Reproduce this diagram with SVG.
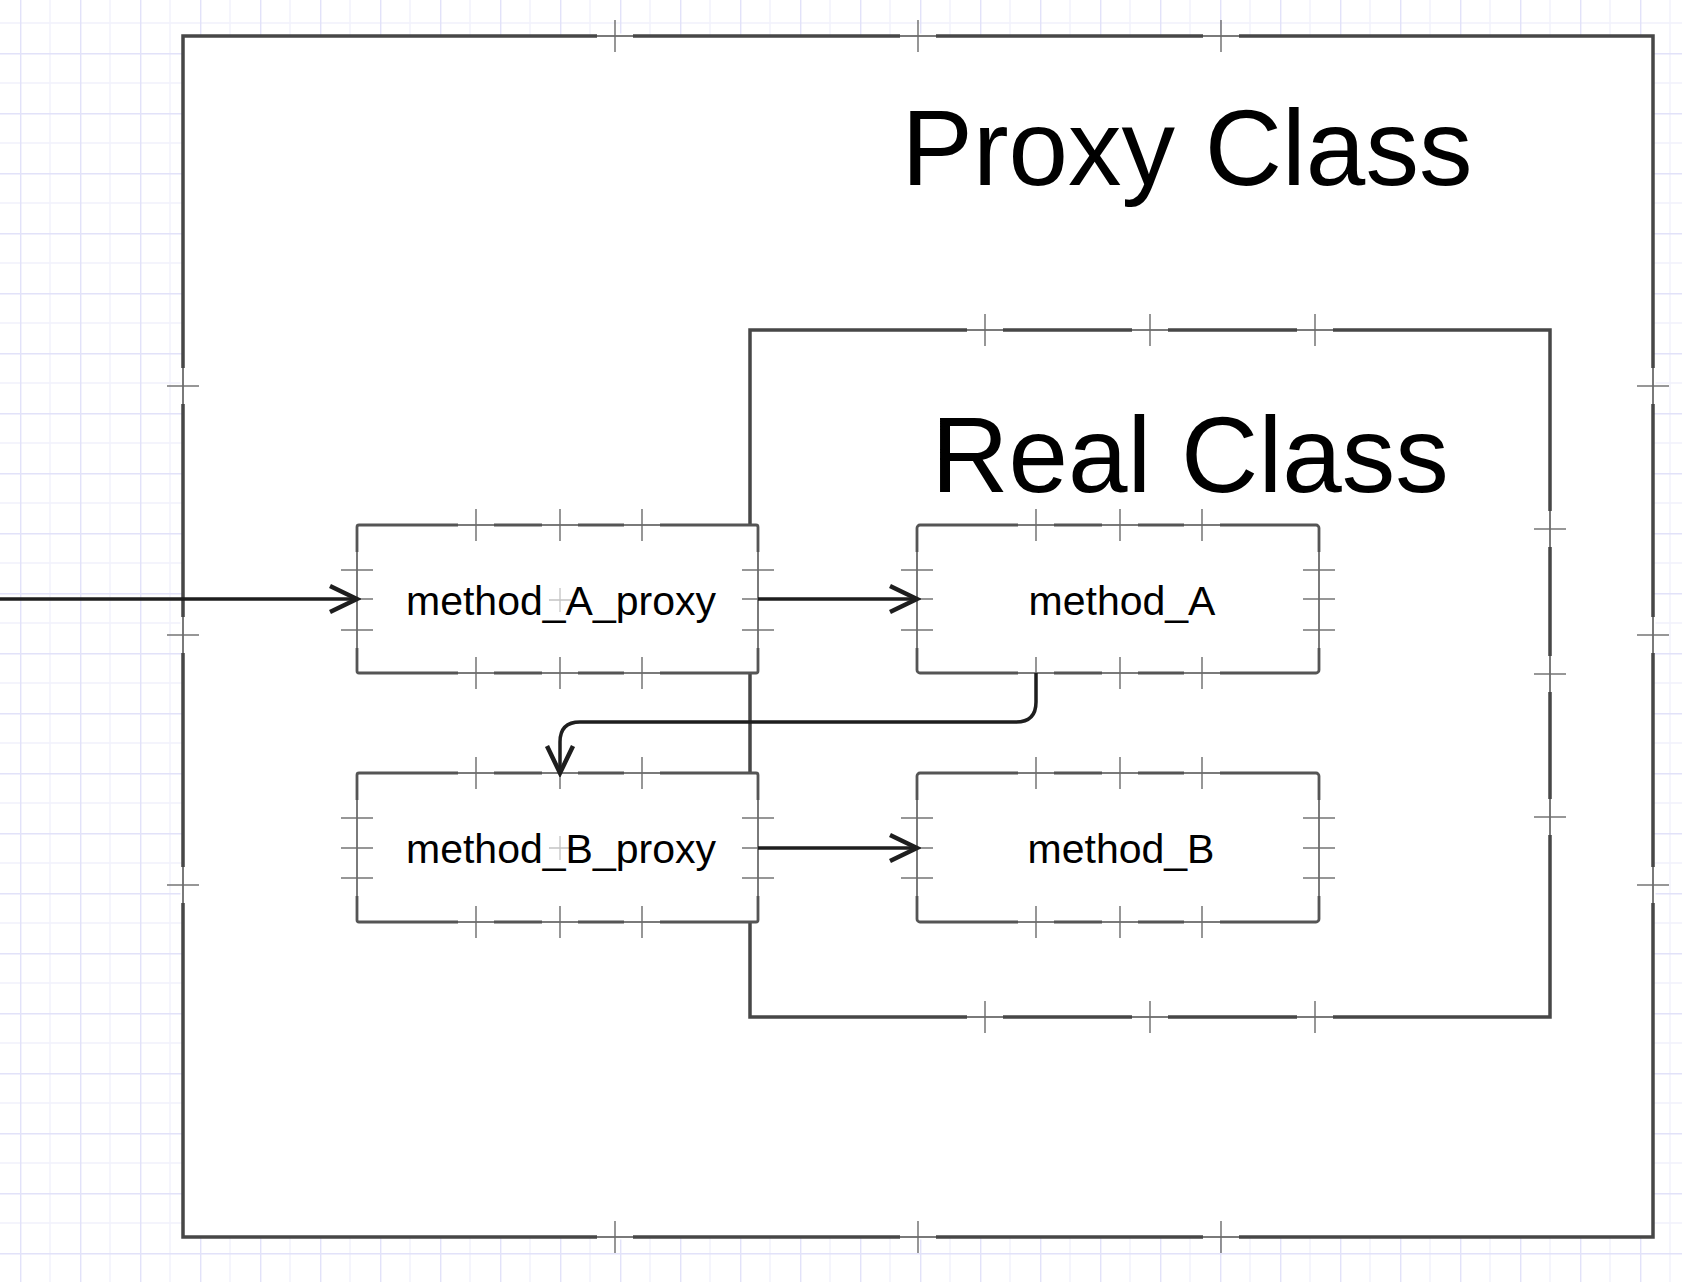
<svg xmlns="http://www.w3.org/2000/svg" xmlns:xlink="http://www.w3.org/1999/xlink" width="1682" height="1282" viewBox="0 0 1682 1282">
  <style>
    .frame { fill: #ffffff; stroke: #474747; stroke-width: 3.5; }
    .box { fill: #ffffff; stroke: #555555; stroke-width: 2.8; }
    .title { font-family: "Liberation Sans", Arial, sans-serif; font-size: 107px; fill: #000000; text-anchor: middle; }
    .label { font-family: "Liberation Sans", Arial, sans-serif; font-size: 41px; fill: #000000; text-anchor: middle; }
    .tick { stroke: #6a6a6a; stroke-width: 1.4; fill: none; }
    .arm { stroke: #7a7a7a; stroke-width: 2; fill: none; }
    .gap { fill: #ffffff; }
    .conn { fill: none; stroke: #1e1e1e; stroke-width: 3.5; }
    .centre { stroke: #c4c4c4; stroke-width: 1.3; fill: none; }
  </style>
  <defs>
    <pattern id="grid" patternUnits="userSpaceOnUse" x="20" y="53" width="60" height="60">
      <rect width="60" height="60" fill="#ffffff"/>
      <path d="M30 0 V60 M0 30 H60" stroke="#f1f1fc" stroke-width="1.4" fill="none"/>
      <path d="M0.5 0 V60 M0 0.5 H60" stroke="#e2e2f9" stroke-width="1.8" fill="none"/>
    </pattern>
    <g id="ch">
      <rect class="gap" x="-18" y="-2.5" width="36" height="5"/>
      <path class="arm" d="M-18 0 H18"/>
      <path class="tick" d="M0 -16 V16"/>
    </g>
    <g id="cv">
      <rect class="gap" x="-2.5" y="-18" width="5" height="36"/>
      <path class="arm" d="M0 -18 V18"/>
      <path class="tick" d="M-16 0 H16"/>
    </g>
    <marker id="arrow" markerUnits="userSpaceOnUse" markerWidth="34" markerHeight="34" viewBox="0 0 34 34" refX="30" refY="17" orient="auto">
      <path d="M3 4 L30 17 L3 30" fill="none" stroke="#1e1e1e" stroke-width="4.5" stroke-linejoin="miter"/>
    </marker>
  </defs>

  <rect x="0" y="0" width="1682" height="1282" fill="url(#grid)"/>

  <g id="proxy-class">
    <rect class="frame" x="183" y="36" width="1470" height="1201"/>
    <use xlink:href="#ch" x="615" y="36"/>
    <use xlink:href="#ch" x="918" y="36"/>
    <use xlink:href="#ch" x="1221" y="36"/>
    <use xlink:href="#ch" x="615" y="1237"/>
    <use xlink:href="#ch" x="918" y="1237"/>
    <use xlink:href="#ch" x="1221" y="1237"/>
    <use xlink:href="#cv" x="183" y="386"/>
    <use xlink:href="#cv" x="183" y="635"/>
    <use xlink:href="#cv" x="183" y="885"/>
    <use xlink:href="#cv" x="1653" y="386"/>
    <use xlink:href="#cv" x="1653" y="635"/>
    <use xlink:href="#cv" x="1653" y="885"/>
    <text class="title" x="1187" y="185">Proxy Class</text>
  </g>

  <g id="real-class">
    <rect class="frame" x="750" y="330" width="800" height="687"/>
    <use xlink:href="#ch" x="985" y="330"/>
    <use xlink:href="#ch" x="1150" y="330"/>
    <use xlink:href="#ch" x="1315" y="330"/>
    <use xlink:href="#ch" x="985" y="1017"/>
    <use xlink:href="#ch" x="1150" y="1017"/>
    <use xlink:href="#ch" x="1315" y="1017"/>
    <use xlink:href="#cv" x="1550" y="529"/>
    <use xlink:href="#cv" x="1550" y="674"/>
    <use xlink:href="#cv" x="1550" y="817"/>
    <text class="title" x="1190" y="492">Real Class</text>
  </g>

  <g id="method-a-proxy">
    <rect class="box" x="357" y="525" width="401" height="148" rx="2"/>
    <use xlink:href="#ch" x="476" y="525"/>
    <use xlink:href="#ch" x="560" y="525"/>
    <use xlink:href="#ch" x="642" y="525"/>
    <use xlink:href="#ch" x="476" y="673"/>
    <use xlink:href="#ch" x="560" y="673"/>
    <use xlink:href="#ch" x="642" y="673"/>
    <use xlink:href="#cv" x="357" y="570"/>
    <use xlink:href="#cv" x="357" y="599"/>
    <use xlink:href="#cv" x="357" y="630"/>
    <use xlink:href="#cv" x="758" y="570"/>
    <use xlink:href="#cv" x="758" y="599"/>
    <use xlink:href="#cv" x="758" y="630"/>
    <path class="centre" d="M560 588 V612 M549 600 H571"/>
    <text class="label" x="561" y="615">method_A_proxy</text>
  </g>

  <g id="method-b-proxy">
    <rect class="box" x="357" y="773" width="401" height="149" rx="2"/>
    <use xlink:href="#ch" x="476" y="773"/>
    <use xlink:href="#ch" x="560" y="773"/>
    <use xlink:href="#ch" x="642" y="773"/>
    <use xlink:href="#ch" x="476" y="922"/>
    <use xlink:href="#ch" x="560" y="922"/>
    <use xlink:href="#ch" x="642" y="922"/>
    <use xlink:href="#cv" x="357" y="818"/>
    <use xlink:href="#cv" x="357" y="848"/>
    <use xlink:href="#cv" x="357" y="878"/>
    <use xlink:href="#cv" x="758" y="818"/>
    <use xlink:href="#cv" x="758" y="848"/>
    <use xlink:href="#cv" x="758" y="878"/>
    <path class="centre" d="M560 836 V860 M549 848 H571"/>
    <text class="label" x="561" y="863">method_B_proxy</text>
  </g>

  <g id="method-a">
    <rect class="box" x="917" y="525" width="402" height="148" rx="3"/>
    <use xlink:href="#ch" x="1036" y="525"/>
    <use xlink:href="#ch" x="1120" y="525"/>
    <use xlink:href="#ch" x="1202" y="525"/>
    <use xlink:href="#ch" x="1036" y="673"/>
    <use xlink:href="#ch" x="1120" y="673"/>
    <use xlink:href="#ch" x="1202" y="673"/>
    <use xlink:href="#cv" x="917" y="570"/>
    <use xlink:href="#cv" x="917" y="599"/>
    <use xlink:href="#cv" x="917" y="630"/>
    <use xlink:href="#cv" x="1319" y="570"/>
    <use xlink:href="#cv" x="1319" y="599"/>
    <use xlink:href="#cv" x="1319" y="630"/>
    <text class="label" x="1122" y="615">method_A</text>
  </g>

  <g id="method-b">
    <rect class="box" x="917" y="773" width="402" height="149" rx="3"/>
    <use xlink:href="#ch" x="1036" y="773"/>
    <use xlink:href="#ch" x="1120" y="773"/>
    <use xlink:href="#ch" x="1202" y="773"/>
    <use xlink:href="#ch" x="1036" y="922"/>
    <use xlink:href="#ch" x="1120" y="922"/>
    <use xlink:href="#ch" x="1202" y="922"/>
    <use xlink:href="#cv" x="917" y="818"/>
    <use xlink:href="#cv" x="917" y="848"/>
    <use xlink:href="#cv" x="917" y="878"/>
    <use xlink:href="#cv" x="1319" y="818"/>
    <use xlink:href="#cv" x="1319" y="848"/>
    <use xlink:href="#cv" x="1319" y="878"/>
    <text class="label" x="1121" y="863">method_B</text>
  </g>

  <g id="connectors">
    <path class="conn" d="M0 599 H357" marker-end="url(#arrow)"/>
    <path class="conn" d="M758 599 H917" marker-end="url(#arrow)"/>
    <path class="conn" d="M758 848 H917" marker-end="url(#arrow)"/>
    <path class="conn" d="M1036 673 V702 Q1036 722 1016 722 H580 Q560 722 560 742 V773" marker-end="url(#arrow)"/>
  </g>
</svg>
